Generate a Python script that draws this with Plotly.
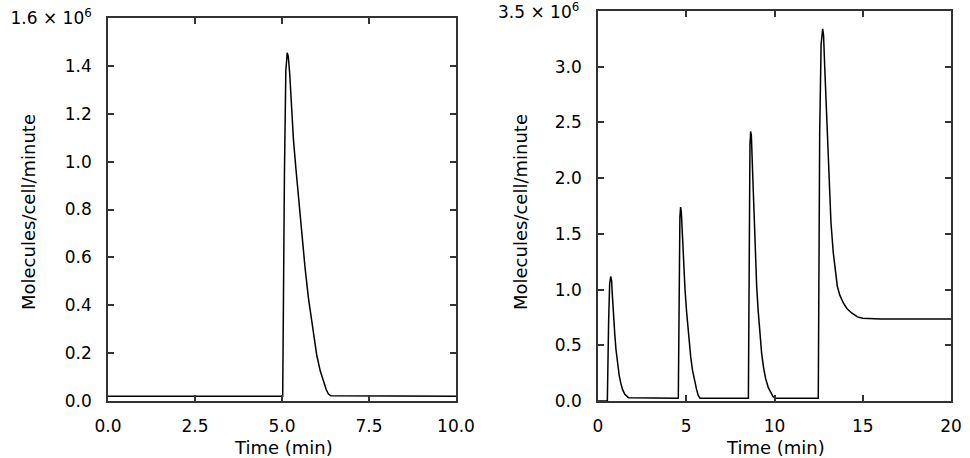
import plotly.graph_objects as go

# Left panel: single pulse (values in units of 10^6 molecules/cell/minute)
t_left = [0.0, 5.0, 5.02, 5.07, 5.11, 5.15, 5.18, 5.22, 5.27, 5.33, 5.4, 5.48, 5.57, 5.66, 5.76,
          5.9, 6.0, 6.1, 6.19, 6.27, 6.33, 6.4, 10.0]
v_left = [0.02, 0.02, 0.02, 0.95, 1.38, 1.455, 1.44, 1.37, 1.24, 1.09, 0.97, 0.84, 0.685, 0.56, 0.43,
          0.277, 0.19, 0.125, 0.08, 0.048, 0.03, 0.022, 0.02]

# Right panel: four pulses
t_right = [0.0, 0.53, 0.6, 0.66, 0.72, 0.77, 0.82, 0.87, 0.95, 1.02, 1.1, 1.2, 1.29, 1.4, 1.52, 1.62, 1.72,
           4.55, 4.6, 4.64, 4.68, 4.72, 4.78, 4.85, 4.93, 5.02, 5.12, 5.25, 5.35, 5.45, 5.59, 5.68, 5.78,
           8.52, 8.57, 8.61, 8.65, 8.69, 8.75, 8.84, 8.92, 8.99, 9.08, 9.17, 9.27, 9.38, 9.5, 9.65, 9.8, 9.92, 10.03,
           12.48, 12.56, 12.64, 12.73, 12.78, 12.85, 12.96, 13.03, 13.1, 13.2, 13.33, 13.45, 13.56, 13.7, 13.9,
           14.1, 14.37, 14.7, 15.0, 16.0, 20.0]
v_right = [0.0, 0.0, 0.7, 1.05, 1.117, 1.08, 0.93, 0.76, 0.6, 0.46, 0.34, 0.23, 0.16, 0.1, 0.06, 0.04, 0.03,
           0.025, 1.2, 1.65, 1.74, 1.70, 1.5, 1.25, 1.0, 0.8, 0.6, 0.40, 0.28, 0.19, 0.10, 0.05, 0.025,
           0.025, 1.7, 2.3, 2.42, 2.38, 2.1, 1.63, 1.3, 1.03, 0.8, 0.6, 0.43, 0.3, 0.2, 0.12, 0.07, 0.04, 0.025,
           0.025, 2.4, 3.2, 3.34, 3.28, 2.98, 2.52, 2.22, 1.93, 1.6, 1.33, 1.16, 1.03, 0.95, 0.88,
           0.83, 0.79, 0.755, 0.743, 0.737, 0.735]

x_left_ticks = [0, 2.5, 5, 7.5, 10]
x_left_text = ["0.0", "2.5", "5.0", "7.5", "10.0"]
y_left_ticks = [0, 0.2, 0.4, 0.6, 0.8, 1.0, 1.2, 1.4, 1.6]
y_left_text = ["0.0", "0.2", "0.4", "0.6", "0.8", "1.0", "1.2", "1.4", "1.6 × 10<sup>6</sup>"]

x_right_ticks = [0, 5, 10, 15, 20]
x_right_text = ["0", "5", "10", "15", "20"]
y_right_ticks = [0, 0.5, 1.0, 1.5, 2.0, 2.5, 3.0, 3.5]
y_right_text = ["0.0", "0.5", "1.0", "1.5", "2.0", "2.5", "3.0", ""]
y_right_top_label = "3.5 × 10<sup>6</sup>"

x_title = "Time (min)"
y_title = "Molecules/cell/minute"

FONT = "DejaVu Sans"
AX_COLOR = "#333333"
W, H = 970, 458

fig = go.Figure()
fig.add_trace(go.Scatter(x=t_left, y=v_left, mode="lines",
                         line=dict(color="black", width=1.5), xaxis="x", yaxis="y",
                         showlegend=False, hoverinfo="skip"))
fig.add_trace(go.Scatter(x=t_right, y=v_right, mode="lines",
                         line=dict(color="black", width=1.5), xaxis="x2", yaxis="y2",
                         showlegend=False, hoverinfo="skip"))

common = dict(showline=True, linecolor=AX_COLOR, linewidth=1.5, mirror="ticks",
              ticks="inside", ticklen=6, tickwidth=1.5, tickcolor=AX_COLOR,
              showgrid=False, zeroline=False, automargin=False,
              tickfont=dict(family=FONT, size=17, color="black"))
xcommon = dict(ticklabelstandoff=9, **common)
ycommon = dict(ticklabelstandoff=11, **common)

fig.update_layout(
    width=W, height=H,
    margin=dict(l=0, r=0, t=0, b=0),
    paper_bgcolor="white", plot_bgcolor="white",
    font=dict(family=FONT, size=17, color="black"),
    xaxis=dict(domain=[108/W, 456/W], range=[0, 10], tickvals=x_left_ticks,
               ticktext=x_left_text, anchor="y", **xcommon),
    yaxis=dict(domain=[57/H, 440/H], range=[0, 1.6], tickvals=y_left_ticks,
               ticktext=y_left_text, anchor="x", **ycommon),
    xaxis2=dict(domain=[598/W, 951/W], range=[0, 20], tickvals=x_right_ticks,
                ticktext=x_right_text, anchor="y2", **xcommon),
    yaxis2=dict(domain=[57/H, 447/H], range=[0, 3.5], tickvals=y_right_ticks,
                ticktext=y_right_text, anchor="x2", **ycommon),
)

# exponent label at the top tick of the right axis
fig.add_annotation(text=y_right_top_label, xref="paper", yref="y2", x=581 / W, y=y_right_ticks[-1],
                   xanchor="right", yanchor="middle", showarrow=False,
                   font=dict(family=FONT, size=17, color="black"))

tfont = dict(family=FONT, size=18, color="black")
for cx in (283, 775):
    fig.add_annotation(text=x_title, xref="paper", yref="paper", x=cx / W, y=(H - 447) / H,
                       xanchor="center", yanchor="middle", showarrow=False, font=tfont)
for cx in (28, 520):
    fig.add_annotation(text=y_title, xref="paper", yref="paper", x=cx / W, y=(H - 212) / H,
                       xanchor="center", yanchor="middle", textangle=-90, showarrow=False, font=tfont)

fig.write_html("out.html")
